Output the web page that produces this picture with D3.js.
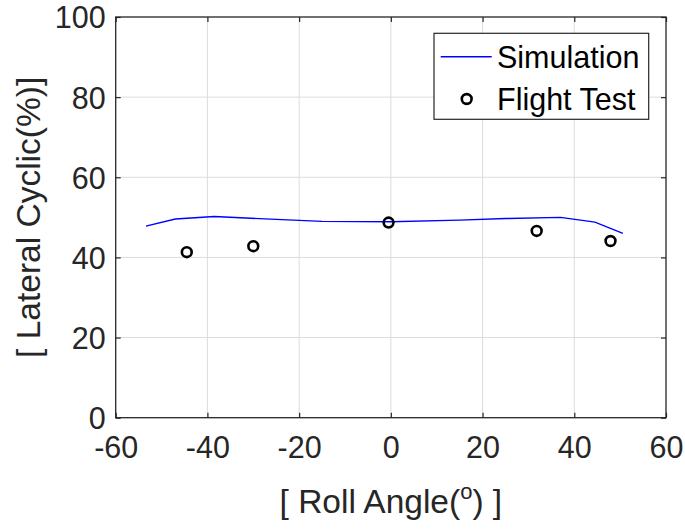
<!DOCTYPE html>
<html>
<head>
<meta charset="utf-8">
<script src="https://cdn.jsdelivr.net/npm/d3@7"></script>
<style>
  html, body { margin: 0; padding: 0; background: #fff; }
  svg { display: block; font-family: "Liberation Sans", Arial, Helvetica, sans-serif; }
</style>
</head>
<body>
<svg id="chart" width="685" height="529"></svg>
<script>
// Simulation curve (roll angle in degrees, lateral cyclic in %)
const simRoll = [-53.4, -47, -38.5, -25, -15, 0, 15, 25, 37, 44.5, 50.6];
const simCyclic = [47.8, 49.6, 50.2, 49.5, 49.0, 48.9, 49.3, 49.7, 50.0, 48.8, 46.0];

// Flight test measurements
const testRoll = [-44.5, -30, -0.5, 31.8, 47.9];
const testCyclic = [41.3, 42.8, 48.7, 46.6, 44.1];

// Axis ticks
const xTicks = [-60, -40, -20, 0, 20, 40, 60];
const yTicks = [0, 20, 40, 60, 80, 100];

const seriesNames = ["Simulation", "Flight Test"];

const margin = { left: 115.7, right: 685 - 666, top: 17, bottom: 529 - 417.7 };
const W = 685, H = 529;
const svg = d3.select("#chart");

const x = d3.scaleLinear().domain([-60, 60]).range([margin.left, W - margin.right]);
const y = d3.scaleLinear().domain([0, 100]).range([H - margin.bottom, margin.top]);

const axisColor = "#262626";
const tickFont = 30.5;
const labelFont = 33.5;

// grid
const grid = svg.append("g");
grid.selectAll("line.gx").data(xTicks.slice(1, -1)).join("line")
  .attr("x1", d => x(d)).attr("x2", d => x(d))
  .attr("y1", y(0)).attr("y2", y(100))
  .attr("stroke", "#dcdcdc").attr("stroke-width", 1);
grid.selectAll("line.gy").data(yTicks.slice(1, -1)).join("line")
  .attr("y1", d => y(d)).attr("y2", d => y(d))
  .attr("x1", x(-60)).attr("x2", x(60))
  .attr("stroke", "#dcdcdc").attr("stroke-width", 1);

// axes: bottom/left with labels, top/right mirrored ticks
const tickLen = 5;
const fmt = d => String(d);
const gx = svg.append("g").attr("transform", `translate(0,${y(0)})`)
  .call(d3.axisBottom(x).tickValues(xTicks).tickSizeInner(-tickLen).tickSizeOuter(0).tickPadding(0).tickFormat(fmt));
const gy = svg.append("g").attr("transform", `translate(${x(-60)},0)`)
  .call(d3.axisLeft(y).tickValues(yTicks).tickSizeInner(-tickLen).tickSizeOuter(0).tickPadding(10).tickFormat(fmt));
const gxt = svg.append("g").attr("transform", `translate(0,${y(100)})`)
  .call(d3.axisTop(x).tickValues(xTicks).tickSizeInner(-tickLen).tickSizeOuter(0).tickFormat(""));
const gyr = svg.append("g").attr("transform", `translate(${x(60)},0)`)
  .call(d3.axisRight(y).tickValues(yTicks).tickSizeInner(-tickLen).tickSizeOuter(0).tickFormat(""));

[gx, gy, gxt, gyr].forEach(g => {
  g.select(".domain").remove();
  g.selectAll(".tick line").attr("stroke", axisColor).attr("stroke-width", 1.2);
  g.selectAll("text").attr("fill", axisColor).style("font-size", tickFont + "px")
    .style("font-family", "'Liberation Sans', Arial, sans-serif");
});
gx.selectAll("text").attr("dy", null).attr("y", 40.5);
gy.selectAll("text").attr("dy", "0.36em");

// frame
svg.append("rect")
  .attr("x", x(-60)).attr("y", y(100))
  .attr("width", x(60) - x(-60)).attr("height", y(0) - y(100))
  .attr("fill", "none").attr("stroke", axisColor).attr("stroke-width", 1.3);

// simulation line
const simData = simRoll.map((r, i) => [r, simCyclic[i]]);
svg.append("path")
  .datum(simData)
  .attr("fill", "none").attr("stroke", "#0000ff").attr("stroke-width", 1.4)
  .attr("d", d3.line().x(d => x(d[0])).y(d => y(d[1])));

// flight test markers
const testData = testRoll.map((r, i) => [r, testCyclic[i]]);
svg.append("g").selectAll("circle").data(testData).join("circle")
  .attr("cx", d => x(d[0])).attr("cy", d => y(d[1])).attr("r", 4.9)
  .attr("fill", "none").attr("stroke", "#000").attr("stroke-width", 2.6);

// axis titles
const xl = svg.append("text")
  .attr("x", (x(-60) + x(60)) / 2).attr("y", 513)
  .attr("text-anchor", "middle").attr("fill", axisColor)
  .style("font-size", labelFont + "px");
xl.append("tspan").text("[ Roll Angle(");
xl.append("tspan").attr("dy", -14).style("font-size", "22px").text("o");
xl.append("tspan").attr("dy", 14).text(") ]");

svg.append("text")
  .attr("transform", `translate(40,${(y(0) + y(100)) / 2}) rotate(-90)`)
  .attr("text-anchor", "middle").attr("fill", axisColor)
  .style("font-size", labelFont + "px")
  .text("[ Lateral Cyclic(%)]");

// legend
const lg = svg.append("g");
lg.append("rect").attr("x", 434).attr("y", 33.3).attr("width", 214.7).attr("height", 86)
  .attr("fill", "#fff").attr("stroke", axisColor).attr("stroke-width", 1.2);
lg.append("line").attr("x1", 440.7).attr("x2", 491.7).attr("y1", 56.7).attr("y2", 56.7)
  .attr("stroke", "#0000ff").attr("stroke-width", 1.4);
lg.append("circle").attr("cx", 466.7).attr("cy", 99).attr("r", 4.9)
  .attr("fill", "none").attr("stroke", "#000").attr("stroke-width", 2.6);
lg.selectAll("text").data(seriesNames).join("text")
  .attr("x", 497).attr("y", (d, i) => [57, 99][i]).attr("dy", "0.36em")
  .attr("fill", "#000").style("font-size", tickFont + "px")
  .text(d => d);
</script>
</body>
</html>
